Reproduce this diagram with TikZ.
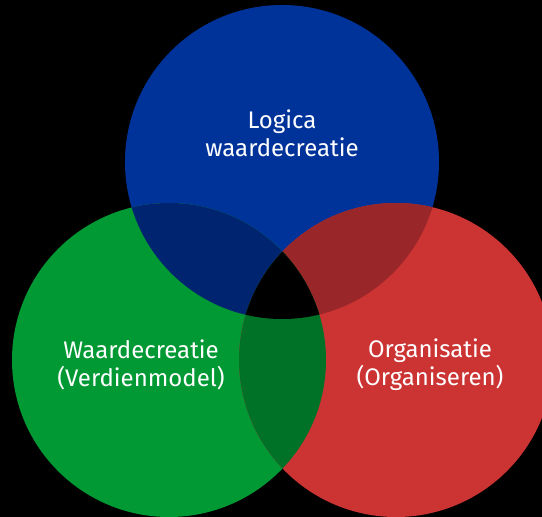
\documentclass[tikz,border=0pt]{standalone}
\usepackage{fontspec}
\setmainfont{Fira Sans}
\definecolor{cblue}{RGB}{0,51,153}
\definecolor{cgreen}{RGB}{0,153,51}
\definecolor{cred}{RGB}{204,51,51}
\definecolor{cbg}{RGB}{0,36,112}
\definecolor{cbr}{RGB}{153,38,40}
\definecolor{cgr}{RGB}{0,114,40}
\tikzset{lbl/.style={text=white, align=center, font=\fontsize{24}{28}\selectfont}}
\begin{document}
\begin{tikzpicture}[x=1pt,y=-1pt]
\fill[black] (0,0) rectangle (542,517);
\useasboundingbox (0,0) rectangle (542,517);
\begin{scope}
\clip (0,0) rectangle (542,517);
\coordinate (B) at (282,162);
\coordinate (G) at (169,360);
\coordinate (R) at (396,360);
\fill[cblue] (B) circle (157);
\fill[cgreen] (G) circle (157);
\fill[cred] (R) circle (157);
\begin{scope}
\clip (B) circle (157);
\fill[cbg] (G) circle (157);
\fill[cbr] (R) circle (157);
\end{scope}
\begin{scope}
\clip (G) circle (157);
\fill[cgr] (R) circle (157);
\begin{scope}
\clip (R) circle (157);
\fill[black] (B) circle (157);
\end{scope}
\end{scope}
\end{scope}
\node[lbl] (tb) at (282,133) {Logica\\waardecreatie};
\node[lbl] (tg) at (141,365) {Waardecreatie\\(Verdienmodel)};
\node[lbl] (tr) at (430,365) {Organisatie\\(Organiseren)};
\end{tikzpicture}
\end{document}
